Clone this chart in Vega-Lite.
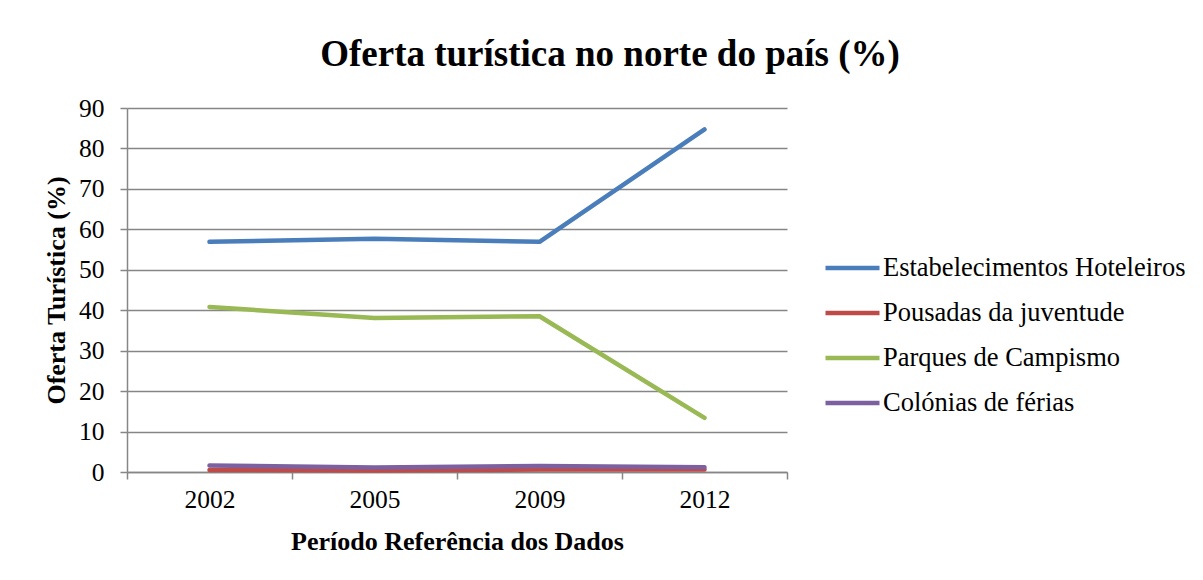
{
  "$schema": "https://vega.github.io/schema/vega-lite/v6.json",
  "width": 660,
  "height": 364,
  "autosize": {"type": "none"},
  "padding": {"left": 127, "top": 108, "right": 416, "bottom": 108},
  "background": "white",
  "title": {
    "text": "Oferta turística no norte do país (%)",
    "font": "Liberation Serif",
    "fontSize": 37,
    "fontWeight": "bold",
    "color": "black",
    "anchor": "middle",
    "dx": 153,
    "offset": 22
  },
  "data": {
    "values": [
      {"ano": "2002", "serie": "Estabelecimentos Hoteleiros", "valor": 56.9},
      {"ano": "2005", "serie": "Estabelecimentos Hoteleiros", "valor": 57.7},
      {"ano": "2009", "serie": "Estabelecimentos Hoteleiros", "valor": 56.9},
      {"ano": "2012", "serie": "Estabelecimentos Hoteleiros", "valor": 84.7},
      {"ano": "2002", "serie": "Pousadas da juventude", "valor": 0.5},
      {"ano": "2005", "serie": "Pousadas da juventude", "valor": 0.4},
      {"ano": "2009", "serie": "Pousadas da juventude", "valor": 0.6},
      {"ano": "2012", "serie": "Pousadas da juventude", "valor": 0.6},
      {"ano": "2002", "serie": "Parques de Campismo", "valor": 40.8},
      {"ano": "2005", "serie": "Parques de Campismo", "valor": 38.1},
      {"ano": "2009", "serie": "Parques de Campismo", "valor": 38.5},
      {"ano": "2012", "serie": "Parques de Campismo", "valor": 13.4},
      {"ano": "2002", "serie": "Colónias de férias", "valor": 1.6},
      {"ano": "2005", "serie": "Colónias de férias", "valor": 1.1},
      {"ano": "2009", "serie": "Colónias de férias", "valor": 1.5},
      {"ano": "2012", "serie": "Colónias de férias", "valor": 1.2}
    ]
  },
  "mark": {"type": "line", "strokeWidth": 4.5, "strokeCap": "round", "strokeJoin": "round"},
  "encoding": {
    "x": {
      "field": "ano",
      "type": "ordinal",
      "scale": {"type": "band", "paddingInner": 0, "paddingOuter": 0},
      "axis": {
        "title": "Período Referência dos Dados",
        "labelAngle": 0,
        "labelFont": "Liberation Serif",
        "labelFontSize": 25.5,
        "labelColor": "black",
        "labelPadding": 8,
        "titleFont": "Liberation Serif",
        "titleFontSize": 26,
        "titleFontWeight": "bold",
        "titleColor": "black",
        "titlePadding": 16,
        "tickBand": "extent",
        "tickSize": 7,
        "tickColor": "#868686",
        "domainColor": "#868686",
        "domainWidth": 1.5,
        "tickWidth": 1.5
      }
    },
    "y": {
      "field": "valor",
      "type": "quantitative",
      "scale": {"domain": [0, 90], "nice": false},
      "axis": {
        "title": "Oferta Turística (%)",
        "values": [0, 10, 20, 30, 40, 50, 60, 70, 80, 90],
        "labelFont": "Liberation Serif",
        "labelFontSize": 25.5,
        "labelColor": "black",
        "labelPadding": 16,
        "titleFont": "Liberation Serif",
        "titleFontSize": 26,
        "titleFontWeight": "bold",
        "titleColor": "black",
        "titlePadding": 9,
        "tickSize": 7,
        "tickColor": "#868686",
        "domainColor": "#868686",
        "domainWidth": 1.5,
        "tickWidth": 1.5,
        "grid": true,
        "gridColor": "#868686",
        "gridWidth": 1.5
      }
    },
    "color": {
      "field": "serie",
      "type": "nominal",
      "sort": ["Estabelecimentos Hoteleiros", "Pousadas da juventude", "Parques de Campismo", "Colónias de férias"],
      "scale": {
        "domain": ["Estabelecimentos Hoteleiros", "Pousadas da juventude", "Parques de Campismo", "Colónias de férias"],
        "range": ["#4A7EBB", "#BE4B48", "#98B954", "#7D60A0"]
      },
      "legend": {
        "title": null,
        "orient": "none",
        "legendX": 696,
        "legendY": 147,
        "symbolType": "stroke",
        "symbolSize": 2916,
        "symbolStrokeWidth": 4.5,
        "clipHeight": 26,
        "labelFont": "Liberation Serif",
        "labelFontSize": 26.5,
        "labelColor": "black",
        "labelOffset": 1,
        "rowPadding": 18,
        "labelLimit": 400
      }
    }
  },
  "config": {
    "view": {"stroke": null}
  }
}
